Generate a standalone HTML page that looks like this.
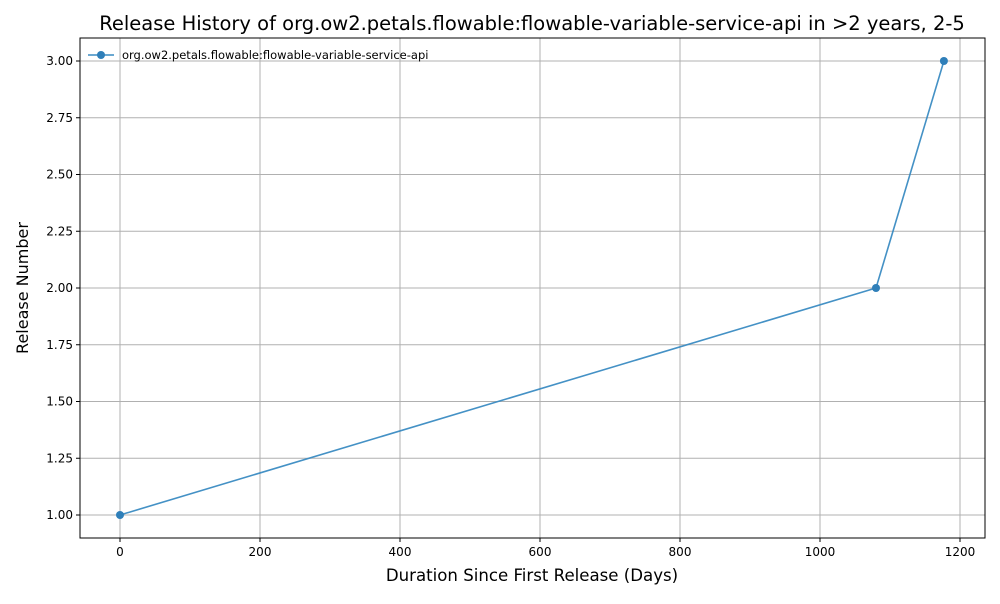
<!DOCTYPE html>
<html><head><meta charset="utf-8"><style>
body{margin:0;background:#fff;font-family:"DejaVu Sans","Liberation Sans",sans-serif}
svg text{font-family:"DejaVu Sans","Liberation Sans",sans-serif}
</style></head><body>
<svg id="chart" width="1000" height="600" xmlns="http://www.w3.org/2000/svg"></svg>
<script>
const days=[0,1080,1177];
const releases=[1,2,3];
const xTicks=[0,200,400,600,800,1000,1200];
const yTicks=[1.00,1.25,1.50,1.75,2.00,2.25,2.50,2.75,3.00];
const seriesName="org.ow2.petals.flowable:flowable-variable-service-api";

const L=80,R=985,T=38,B=538;
const xs=d=>120+(d-0)*(840/1200);
const ys=v=>515-(v-1)*227;
const svg=document.getElementById('chart');
const NS="http://www.w3.org/2000/svg";
function mk(tag,attrs,parent){const e=document.createElementNS(NS,tag);for(const k in attrs)e.setAttribute(k,attrs[k]);(parent||svg).appendChild(e);return e;}

const grid=mk('g',{});


xTicks.forEach(t=>{
  mk('line',{x1:xs(t),x2:xs(t),y1:T,y2:B,stroke:'#b0b0b0','stroke-width':1},grid);
  mk('line',{x1:xs(t),x2:xs(t),y1:B,y2:B+4,stroke:'#000'},grid);
  const tx=mk('text',{x:xs(t),y:B+18,'text-anchor':'middle','font-size':12},grid);
  tx.textContent=t;
  
  
});
yTicks.forEach(t=>{
  mk('line',{x1:L,x2:R,y1:ys(t),y2:ys(t),stroke:'#b0b0b0','stroke-width':1},grid);
  mk('line',{x1:L-4,x2:L,y1:ys(t),y2:ys(t),stroke:'#000'},grid);
  const tx=mk('text',{x:L-7,y:ys(t)+4,'text-anchor':'end','font-size':12},grid);
  tx.textContent=t.toFixed(2);
  
  
});
const frame=mk('rect',{x:L,y:T,width:R-L,height:B-T,fill:'none',stroke:'#000','stroke-width':1});



const line=mk('polyline',{points:days.map((d,i)=>xs(d)+','+ys(releases[i])).join(' '),fill:'none',stroke:'#3a8bc2','stroke-width':1.6,opacity:0.95});


days.forEach((d,i)=>{
  const c=mk('circle',{cx:xs(d),cy:ys(releases[i]),r:4,fill:'#2f7fb9'});
  
  
});

const title=mk('text',{x:532,y:30,'text-anchor':'middle','font-size':19.5});
title.textContent="Release History of org.ow2.petals.flowable:flowable-variable-service-api in >2 years, 2-5";


const xl=mk('text',{x:532,y:581,'text-anchor':'middle','font-size':16.6});
xl.textContent="Duration Since First Release (Days)";


const yl=mk('text',{x:28,y:288,'text-anchor':'middle','font-size':16,transform:'rotate(-90 28 288)'});
yl.textContent="Release Number";



const lg=mk('g',{});


mk('line',{x1:88,x2:114,y1:55,y2:55,stroke:'#3a8bc2','stroke-width':1.6},lg);
mk('circle',{cx:101,cy:55,r:4,fill:'#2f7fb9'},lg);
const lt=mk('text',{x:122,y:59,'font-size':11.5},lg);
lt.textContent=seriesName;
</script>
</body></html>
